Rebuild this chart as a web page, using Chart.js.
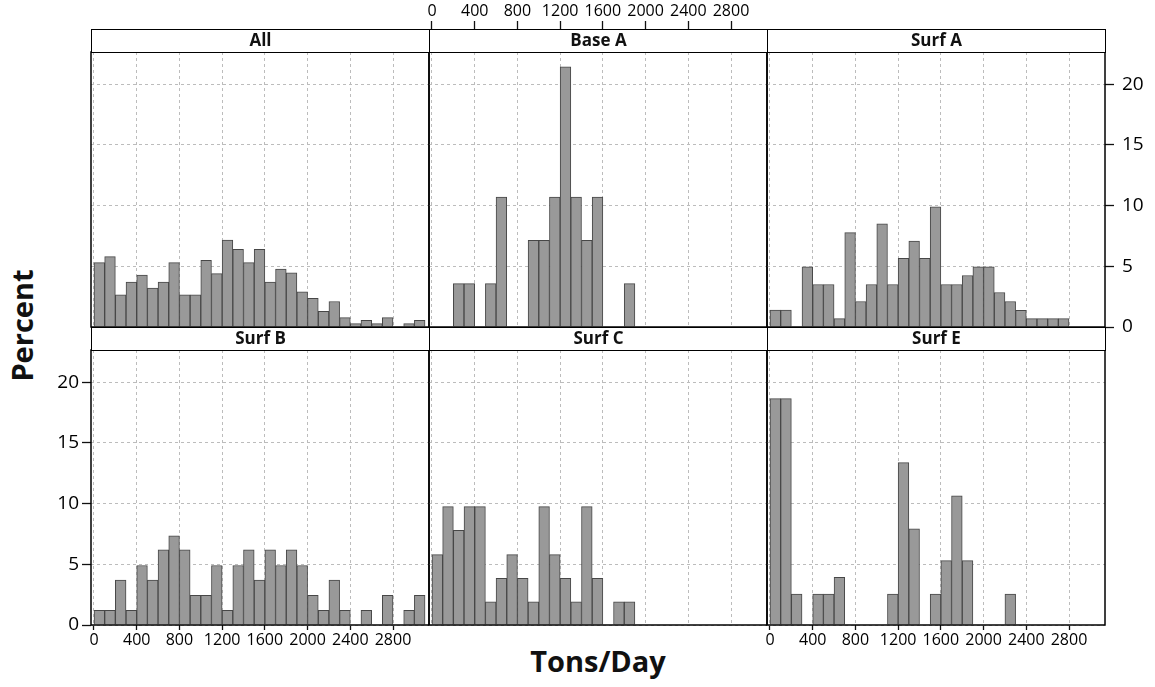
<!DOCTYPE html>
<html>
<head>
<meta charset="utf-8">
<script src="https://cdn.jsdelivr.net/npm/chart.js@4.4.1/dist/chart.umd.min.js"></script>
<style>
  body { margin: 0; background: #fff; }
  #wrap { position: relative; width: 1155px; height: 687px; overflow: hidden; font-family: "Open Sans", sans-serif; }
  #wrap canvas { position: absolute; }
  .strip { position: absolute; box-sizing: border-box; border: 1.5px solid #000; background: #fff;
           font-weight: bold; font-size: 17px; text-align: center; color: #111; z-index: 5; }
  .title { position: absolute; font-weight: bold; color: #111; white-space: nowrap; }
</style>
</head>
<body>
<div id="wrap">
  <div class="title" style="font-size:29px;left:-44px;top:306px;width:130px;text-align:center;transform:rotate(-90deg);">Percent</div>
  <div class="title" style="font-size:29px;left:498px;top:641px;width:200px;text-align:center;">Tons/Day</div>
</div>
<script>
// bins: 100 tons/day wide, starting at these values
const binStart = [0, 100, 200, 300, 400, 500, 600, 700, 800, 900, 1000, 1100, 1200, 1300, 1400, 1500,
                  1600, 1700, 1800, 1900, 2000, 2100, 2200, 2300, 2400, 2500, 2600, 2700, 2800, 2900, 3000];
const binWidth = 100;

const xTicks = [0, 400, 800, 1200, 1600, 2000, 2400, 2800];
const yTicks = [0, 5, 10, 15, 20];

// percent per bin
const pctAll   = [5.3, 5.8, 2.65, 3.7, 4.27, 3.2, 3.7, 5.3, 2.65, 2.65, 5.5, 4.4, 7.16, 6.4, 5.3, 6.4,
                  3.7, 4.77, 4.46, 2.9, 2.37, 1.3, 2.1, 0.77, 0.28, 0.55, 0.28, 0.77, 0, 0.28, 0.55];
const pctBaseA = [0, 0, 3.57, 3.57, 0, 3.57, 10.71, 0, 0, 7.14, 7.14, 10.71, 21.43, 10.71, 7.14, 10.71,
                  0, 0, 3.57, 0, 0, 0, 0, 0, 0, 0, 0, 0, 0, 0, 0];
const pctSurfA = [1.39, 1.39, 0, 4.96, 3.5, 3.5, 0.69, 7.77, 2.1, 3.5, 8.5, 3.5, 5.65, 7.08, 5.65, 9.9,
                  3.5, 3.5, 4.24, 4.96, 4.96, 2.84, 2.1, 1.38, 0.69, 0.69, 0.69, 0.69, 0, 0, 0];
const pctSurfB = [1.2, 1.2, 3.7, 1.2, 4.9, 3.7, 6.2, 7.35, 6.2, 2.45, 2.45, 4.9, 1.2, 4.9, 6.2, 3.7,
                  6.2, 4.9, 6.2, 4.9, 2.45, 1.2, 3.7, 1.2, 0, 1.2, 0, 2.45, 0, 1.2, 2.45];
const pctSurfC = [5.8, 9.75, 7.8, 9.75, 9.75, 1.9, 3.85, 5.8, 3.85, 1.9, 9.75, 5.8, 3.85, 1.9, 9.75, 3.85,
                  0, 1.9, 1.9, 0, 0, 0, 0, 0, 0, 0, 0, 0, 0, 0, 0];
const pctSurfE = [18.65, 18.65, 2.54, 0, 2.54, 2.54, 3.92, 0, 0, 0, 0, 2.54, 13.37, 7.93, 0, 2.54,
                  5.3, 10.64, 5.3, 0, 0, 0, 2.54, 0, 0, 0, 0, 0, 0, 0, 0];

const panels = [
  { name: 'All',    values: pctAll,   col: 0, row: 0, xLab: null,     yLab: null },
  { name: 'Base A', values: pctBaseA, col: 1, row: 0, xLab: 'top',    yLab: null },
  { name: 'Surf A', values: pctSurfA, col: 2, row: 0, xLab: null,     yLab: 'right' },
  { name: 'Surf B', values: pctSurfB, col: 0, row: 1, xLab: 'bottom', yLab: 'left' },
  { name: 'Surf C', values: pctSurfC, col: 1, row: 1, xLab: null,     yLab: null },
  { name: 'Surf E', values: pctSurfE, col: 2, row: 1, xLab: 'bottom', yLab: null }
];

// layout of the lattice
const colX = [91, 429, 767];
const rowY = [52, 350];
const PW = 338, PH = 275, STRIP = 23, M = 60;
const X_MIN = -28, X_MAX = 3137, Y_MAX = 22.65;

const wrap = document.getElementById('wrap');

const frame = {
  id: 'frame',
  afterDraw(chart) {
    const a = chart.chartArea, c = chart.ctx;
    c.save();
    c.strokeStyle = '#000';
    c.lineWidth = 1.5;
    c.strokeRect(a.left, a.top, a.right - a.left, a.bottom - a.top);
    c.restore();
  }
};

panels.forEach(p => {
  const L = colX[p.col], T = rowY[p.row];

  const strip = document.createElement('div');
  strip.className = 'strip';
  strip.style.left = L + 'px';
  strip.style.top = (T - STRIP) + 'px';
  strip.style.width = (PW + 1) + 'px';
  strip.style.height = (STRIP + 1) + 'px';
  strip.style.lineHeight = (STRIP - 3) + 'px';
  strip.textContent = p.name;
  wrap.appendChild(strip);

  const cv = document.createElement('canvas');
  cv.width = PW + 2 * M;
  cv.height = PH + 2 * M;
  cv.style.left = (L - M) + 'px';
  cv.style.top = (T - M) + 'px';
  wrap.appendChild(cv);

  const xPos = p.xLab === 'top' ? 'top' : 'bottom';
  const yPos = p.yLab === 'right' ? 'right' : 'left';

  new Chart(cv, {
    type: 'bar',
    data: {
      datasets: [{
        data: binStart.map((b, i) => ({ x: b + binWidth / 2, y: p.values[i] })),
        backgroundColor: '#999999',
        borderColor: '#474747',
        borderWidth: 1,
        borderSkipped: 'start',
        barPercentage: 1,
        categoryPercentage: 1
      }]
    },
    options: {
      responsive: false,
      animation: false,
      layout: {
        padding: {
          top: xPos === 'bottom' ? M : 0,
          bottom: xPos === 'top' ? M : 0,
          left: yPos === 'right' ? M : 0,
          right: yPos === 'left' ? M : 0
        }
      },
      plugins: { legend: { display: false }, tooltip: { enabled: false } },
      scales: {
        x: {
          type: 'linear',
          position: xPos,
          min: X_MIN,
          max: X_MAX,
          offset: false,
          afterFit: s => { s.height = M; },
          afterBuildTicks: s => { s.ticks = xTicks.map(v => ({ value: v })); },
          ticks: {
            display: !!p.xLab,
            autoSkip: false,
            maxRotation: 0,
            padding: xPos === 'top' ? 0 : 1,
            color: '#000',
            font: { family: 'Open Sans', size: 16 },
            callback: v => String(v)
          },
          grid: {
            offset: false,
            color: '#bcbcbc',
            lineWidth: 1,
            drawTicks: !!p.xLab,
            tickLength: xPos === 'top' ? 31 : 5,
            tickColor: '#111',
            tickWidth: 1.3,
            tickBorderDash: []
          },
          border: { display: false, dash: [3, 3] }
        },
        y: {
          type: 'linear',
          position: yPos,
          min: 0,
          max: Y_MAX,
          afterFit: s => { s.width = M; },
          afterBuildTicks: s => { s.ticks = yTicks.map(v => ({ value: v })); },
          ticks: {
            display: !!p.yLab,
            padding: yPos === 'right' ? 8 : 3,
            color: '#000',
            font: { family: 'Open Sans', size: 19 },
            callback: v => String(v)
          },
          grid: {
            color: '#bcbcbc',
            lineWidth: 1,
            drawTicks: !!p.yLab,
            tickLength: 9,
            tickColor: '#111',
            tickWidth: 1.3,
            tickBorderDash: []
          },
          border: { display: false, dash: [3, 3] }
        }
      }
    },
    plugins: [frame]
  });
});
</script>
</body>
</html>
